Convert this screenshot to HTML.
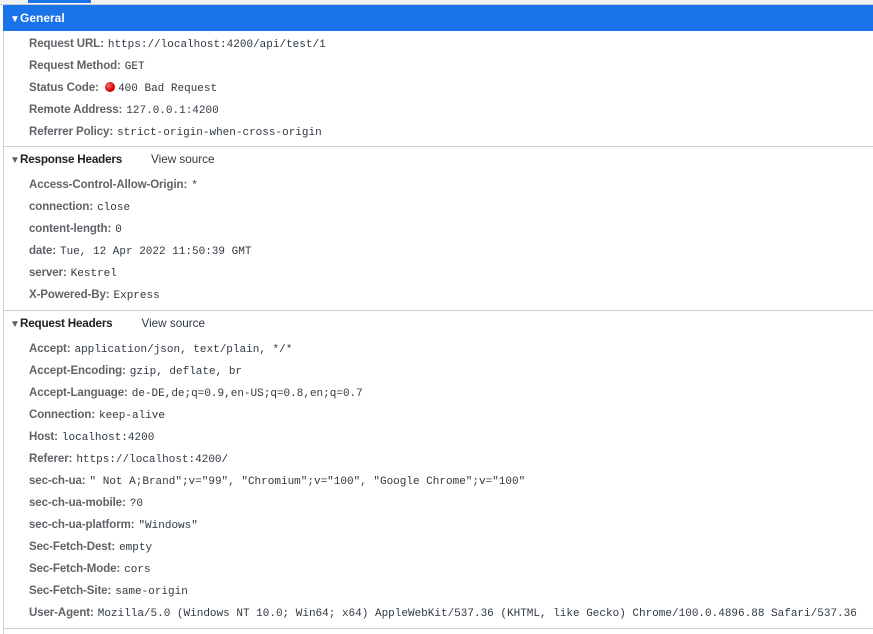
<!DOCTYPE html>
<html><head><meta charset="utf-8"><style>
*{margin:0;padding:0;box-sizing:border-box}
body{width:873px;height:634px;background:#fff;position:relative;overflow:hidden;font-family:"Liberation Sans",Arial,sans-serif;font-size:12px;color:#202124}
.a{position:absolute;white-space:nowrap;line-height:22px;height:22px}
.r{left:29px}
.k{color:#5f6368;font-weight:bold;font-size:11.5px;letter-spacing:-0.1px}
.v{font-family:"Liberation Mono",monospace;font-size:11px;color:#303942;margin-left:4px}
.h{left:10px;font-weight:bold;color:#202124;font-size:11.7px;letter-spacing:-0.2px}
.h .t{display:inline-block;font-size:10px;color:#5f6368;width:10px}
.vs{font-weight:normal;color:#303942;margin-left:29px;letter-spacing:0}
.line{position:absolute;left:3px;right:0;height:1px;background:#cacdd1}
</style></head><body>
<div style="position:absolute;left:0;top:0;width:873px;height:5px;background:#f1f3f4;border-bottom:1px solid #cacdd1"></div>
<div style="position:absolute;left:28px;top:0;width:63px;height:3px;background:#1a73e8"></div>
<div style="position:absolute;left:3px;top:5px;width:1px;height:629px;background:#cacdd1"></div>
<div style="position:absolute;left:3px;top:5px;width:870px;height:26px;background:#1a73e8"></div>
<div class="a" style="left:10px;top:7px;color:#fff;font-weight:bold"><span style="font-size:10px;display:inline-block;width:10px">▼</span>General</div>

<div class="a r" style="top:32px"><span class="k">Request URL:</span><span class="v">https://localhost:4200/api/test/1</span></div>
<div class="a r" style="top:54px"><span class="k">Request Method:</span><span class="v">GET</span></div>
<div class="a r" style="top:76px"><span class="k">Status Code:</span> <span style="display:inline-block;width:10px;height:10px;border-radius:50%;background:radial-gradient(circle at 35% 35%,#ff6b6b,#d00000 60%,#900);vertical-align:-1px;margin-left:3px"></span><span class="v" style="margin-left:3px">400 Bad Request</span></div>
<div class="a r" style="top:98px"><span class="k">Remote Address:</span><span class="v">127.0.0.1:4200</span></div>
<div class="a r" style="top:120px"><span class="k">Referrer Policy:</span><span class="v">strict-origin-when-cross-origin</span></div>
<div class="line" style="top:146px"></div>

<div class="a h" style="top:149px"><span class="t">▼</span>Response Headers<span class="vs">View source</span></div>
<div class="a r" style="top:173px"><span class="k">Access-Control-Allow-Origin:</span><span class="v">*</span></div>
<div class="a r" style="top:195px"><span class="k">connection:</span><span class="v">close</span></div>
<div class="a r" style="top:217px"><span class="k">content-length:</span><span class="v">0</span></div>
<div class="a r" style="top:239px"><span class="k">date:</span><span class="v">Tue, 12 Apr 2022 11:50:39 GMT</span></div>
<div class="a r" style="top:261px"><span class="k">server:</span><span class="v">Kestrel</span></div>
<div class="a r" style="top:283px"><span class="k">X-Powered-By:</span><span class="v">Express</span></div>
<div class="line" style="top:310px"></div>

<div class="a h" style="top:313px"><span class="t">▼</span>Request Headers<span class="vs">View source</span></div>
<div class="a r" style="top:337px"><span class="k">Accept:</span><span class="v">application/json, text/plain, */*</span></div>
<div class="a r" style="top:359px"><span class="k">Accept-Encoding:</span><span class="v">gzip, deflate, br</span></div>
<div class="a r" style="top:381px"><span class="k">Accept-Language:</span><span class="v">de-DE,de;q=0.9,en-US;q=0.8,en;q=0.7</span></div>
<div class="a r" style="top:403px"><span class="k">Connection:</span><span class="v">keep-alive</span></div>
<div class="a r" style="top:425px"><span class="k">Host:</span><span class="v">localhost:4200</span></div>
<div class="a r" style="top:447px"><span class="k">Referer:</span><span class="v">https://localhost:4200/</span></div>
<div class="a r" style="top:469px"><span class="k">sec-ch-ua:</span><span class="v">" Not A;Brand";v="99", "Chromium";v="100", "Google Chrome";v="100"</span></div>
<div class="a r" style="top:491px"><span class="k">sec-ch-ua-mobile:</span><span class="v">?0</span></div>
<div class="a r" style="top:513px"><span class="k">sec-ch-ua-platform:</span><span class="v">"Windows"</span></div>
<div class="a r" style="top:535px"><span class="k">Sec-Fetch-Dest:</span><span class="v">empty</span></div>
<div class="a r" style="top:557px"><span class="k">Sec-Fetch-Mode:</span><span class="v">cors</span></div>
<div class="a r" style="top:579px"><span class="k">Sec-Fetch-Site:</span><span class="v">same-origin</span></div>
<div class="a r" style="top:601px"><span class="k">User-Agent:</span><span class="v">Mozilla/5.0 (Windows NT 10.0; Win64; x64) AppleWebKit/537.36 (KHTML, like Gecko) Chrome/100.0.4896.88 Safari/537.36</span></div>
<div class="line" style="top:628px"></div>
</body></html>
